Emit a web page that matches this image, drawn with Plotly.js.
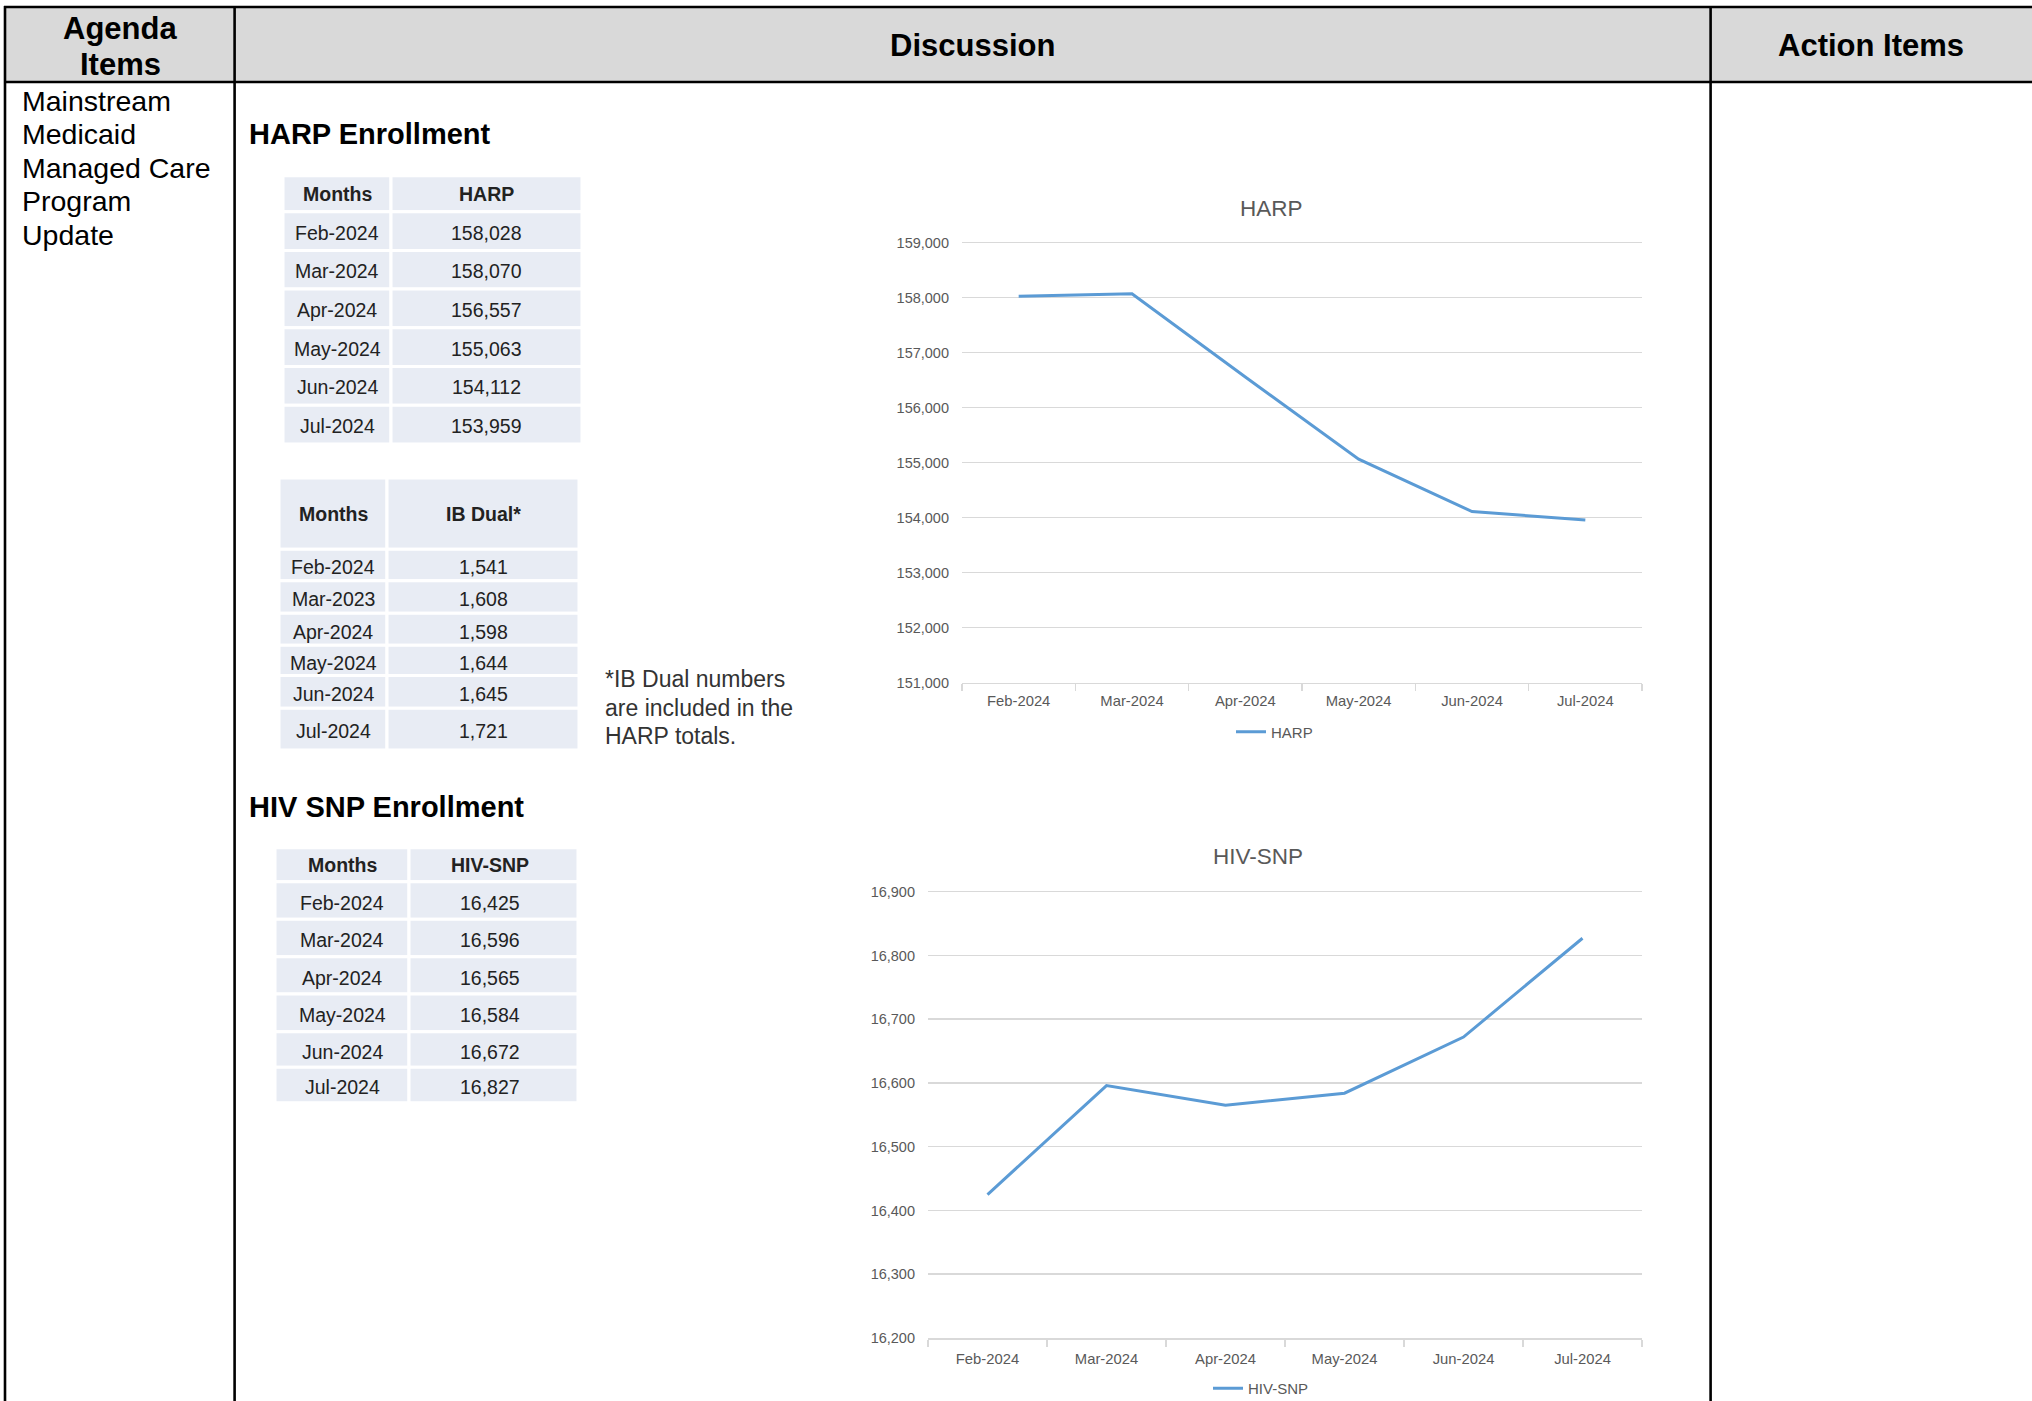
<!DOCTYPE html>
<html>
<head>
<meta charset="utf-8">
<script src="https://cdn.plot.ly/plotly-3.0.1.min.js"></script>
<style>
html, body { margin: 0; padding: 0; background: #ffffff; overflow: hidden; }
#chart { width: 2032px; height: 1410px; }
</style>
</head>
<body>
<div id="chart"></div>
<script>
// ---------------- DATA ----------------
const months = ['Feb-2024', 'Mar-2024', 'Apr-2024', 'May-2024', 'Jun-2024', 'Jul-2024'];
const harpValues = [158028, 158070, 156557, 155063, 154112, 153959];
const ibDualMonths = ['Feb-2024', 'Mar-2023', 'Apr-2024', 'May-2024', 'Jun-2024', 'Jul-2024'];
const ibDualValues = [1541, 1608, 1598, 1644, 1645, 1721];
const hivSnpValues = [16425, 16596, 16565, 16584, 16672, 16827];

const harpTableHeader = ['Months', 'HARP'];
const ibDualTableHeader = ['Months', 'IB Dual*'];
const hivTableHeader = ['Months', 'HIV-SNP'];

const docHeaders = ['Discussion', 'Action Items'];
const agendaHeaderLines = ['Agenda', 'Items'];
const agendaLines = ['Mainstream', 'Medicaid', 'Managed Care', 'Program', 'Update'];
const sectionTitles = ['HARP Enrollment', 'HIV SNP Enrollment'];
const footnoteLines = ['*IB Dual numbers', 'are included in the', 'HARP totals.'];
const chartTitles = ['HARP', 'HIV-SNP'];

const harpAxisRange = [151000, 159000];
const harpAxisStep = 1000;
const hivAxisRange = [16200, 16900];
const hivAxisStep = 100;

// ---------------- LAYOUT HELPERS ----------------
// The document table runs on below the visible window, so the drawing
// surface is a few pixels taller than the 1401px window.
const W = 2032, H = 1410;
const FONT = 'Liberation Sans, Arial, Helvetica, sans-serif';
const fx = x => x / W;
const fy = y => 1 - y / H;
const fmt = v => v.toLocaleString('en-US');

const shapes = [];
const annotations = [];

function text(str, x, y, size, opts) {
  opts = opts || {};
  annotations.push({
    xref: 'paper', yref: 'paper', x: fx(x), y: fy(y),
    xanchor: opts.xanchor || 'center', yanchor: 'middle',
    text: opts.bold ? '<b>' + str + '</b>' : str,
    showarrow: false,
    font: { family: FONT, size: size, color: opts.color || '#000000' }
  });
}
function rect(x0, y0, x1, y1, fill, lineColor, lineWidth) {
  shapes.push({
    type: 'rect', xref: 'paper', yref: 'paper',
    x0: fx(x0), x1: fx(x1), y0: fy(y1), y1: fy(y0),
    fillcolor: fill,
    line: { color: lineColor || 'rgba(0,0,0,0)', width: lineWidth || 0 },
    layer: 'below'
  });
}
function hline(x0, x1, y, w, c) {
  shapes.push({ type: 'line', xref: 'paper', yref: 'paper', x0: fx(x0), x1: fx(x1), y0: fy(y), y1: fy(y),
    line: { color: c, width: w } });
}
function vline(x, y0, y1, w, c) {
  shapes.push({ type: 'line', xref: 'paper', yref: 'paper', x0: fx(x), x1: fx(x), y0: fy(y0), y1: fy(y1),
    line: { color: c, width: w } });
}

// ---------------- DOCUMENT FRAME ----------------
rect(5, 7, W, 82, '#d9d9d9');
const BORDER = 2.6;
hline(4, W, 7, BORDER, '#000');
hline(4, W, 82, BORDER, '#000');
vline(5, 6, H, BORDER, '#000');
vline(234.6, 6, H, BORDER, '#000');
vline(1710.6, 6, H, BORDER, '#000');

text(agendaHeaderLines[0], 120, 28, 31, { bold: true });
text(agendaHeaderLines[1], 120, 64.5, 31, { bold: true });
text(docHeaders[0], 972.6, 45.5, 31, { bold: true });
text(docHeaders[1], 1871, 45.5, 31, { bold: true });

agendaLines.forEach((t, i) => text(t, 20, 101 + i * 33.4, 28.5, { xanchor: 'left' }));

text(sectionTitles[0], 247, 134, 29, { bold: true, xanchor: 'left' });
text(sectionTitles[1], 247, 807, 29, { bold: true, xanchor: 'left' });

// ---------------- DATA TABLES ----------------
const CELL_FILL = '#e8ecf4';
const CELL_TEXT = '#222222';
function buildTable(geom, header, col1, col2) {
  const xs = [geom.x0, geom.xDiv, geom.x1];
  const rows = [header].concat(col1.map((m, i) => [m, col2[i]]));
  rows.forEach((row, r) => {
    const y0 = geom.edges[r], y1 = geom.edges[r + 1];
    for (let c = 0; c < 2; c++) {
      rect(xs[c], y0, xs[c + 1], y1, CELL_FILL, '#ffffff', 3);
      text(String(row[c]), (xs[c] + xs[c + 1]) / 2 + (geom.shift ? geom.shift[c] : 0),
        (y0 + y1) / 2 + (r === 0 ? 0.5 : geom.textDy),
        geom.fontSize, { bold: r === 0, color: CELL_TEXT });
    }
  });
}

buildTable({ x0: 283, xDiv: 391, x1: 582, fontSize: 19.5, textDy: 1.5,
  edges: [175.7, 211.7, 250.4, 289.1, 327.8, 366.5, 405.2, 443.9] },
  harpTableHeader, months, harpValues.map(fmt));

buildTable({ x0: 279, xDiv: 387, x1: 579, fontSize: 19.5, textDy: 2.3,
  edges: [478, 549.3, 580.7, 613.3, 645.3, 675.5, 708.3, 750] },
  ibDualTableHeader, ibDualMonths, ibDualValues.map(fmt));

buildTable({ x0: 275, xDiv: 409, x1: 578, fontSize: 19.5, textDy: 2.3, shift: [0, -4],
  edges: [847.7, 881.7, 919.3, 956.7, 994, 1031.7, 1067.3, 1102.7] },
  hivTableHeader, months, hivSnpValues.map(fmt));

footnoteLines.forEach((t, i) => text(t, 603, 679.5 + i * 28.5, 23, { xanchor: 'left', color: '#333333' }));

// ---------------- CHARTS ----------------
const LINE_BLUE = '#5b9bd5';
const GRID = '#d9d9d9';
const AXIS_TEXT = '#595959';

text(chartTitles[0], 1271, 208, 22.5, { color: AXIS_TEXT });
text(chartTitles[1], 1258, 856.5, 22.5, { color: AXIS_TEXT });

const traces = [
  { type: 'scatter', mode: 'lines', name: 'HARP', x: months, y: harpValues,
    xaxis: 'x', yaxis: 'y', legend: 'legend',
    line: { color: LINE_BLUE, width: 3 }, hoverinfo: 'skip' },
  { type: 'scatter', mode: 'lines', name: 'HIV-SNP', x: months, y: hivSnpValues,
    xaxis: 'x2', yaxis: 'y2', legend: 'legend2',
    line: { color: LINE_BLUE, width: 3 }, hoverinfo: 'skip' }
];

function xAxis(d0, d1, anchor, standoff) {
  return {
    domain: [fx(d0), fx(d1)], anchor: anchor, type: 'category',
    categoryorder: 'array', categoryarray: months,
    range: [-0.5, months.length - 0.5],
    showgrid: false, zeroline: false,
    showline: true, linecolor: GRID, linewidth: 1.5,
    ticks: 'outside', tickson: 'boundaries', ticklen: 7, tickwidth: 1.2, tickcolor: GRID,
    ticklabelstandoff: standoff,
    tickfont: { family: FONT, size: 14.8, color: AXIS_TEXT },
    fixedrange: true
  };
}
// the value range is nudged by a hair at the top so the top gridline is drawn
function yAxis(topPx, bottomPx, range, dtick, anchor) {
  const pxPerUnit = (bottomPx - topPx) / (range[1] - range[0]);
  const pad = dtick * 0.02;
  return {
    domain: [fy(bottomPx), fy(topPx - pad * pxPerUnit)], anchor: anchor,
    range: [range[0], range[1] + pad], dtick: dtick, tick0: range[0], tickformat: ',d',
    showgrid: true, gridcolor: GRID, gridwidth: 1.5,
    zeroline: false, showline: false, ticks: '',
    ticklabelstandoff: 12,
    tickfont: { family: FONT, size: 14.5, color: AXIS_TEXT },
    fixedrange: true
  };
}

const layout = {
  width: W, height: H, autosize: false,
  margin: { l: 0, r: 0, t: 0, b: 0, pad: 0 },
  paper_bgcolor: '#ffffff', plot_bgcolor: 'rgba(0,0,0,0)',
  font: { family: FONT },
  showlegend: true,
  xaxis: xAxis(962, 1642, 'y', 4),
  yaxis: yAxis(242.7, 682.7, harpAxisRange, harpAxisStep, 'x'),
  xaxis2: xAxis(928, 1642, 'y2', 7),
  yaxis2: yAxis(891.7, 1338, hivAxisRange, hivAxisStep, 'x2'),
  legend: { orientation: 'h', x: fx(1231), y: fy(732), xanchor: 'left', yanchor: 'middle',
    bgcolor: 'rgba(0,0,0,0)', font: { family: FONT, size: 15, color: AXIS_TEXT } },
  legend2: { orientation: 'h', x: fx(1208), y: fy(1388.5), xanchor: 'left', yanchor: 'middle',
    bgcolor: 'rgba(0,0,0,0)', font: { family: FONT, size: 15, color: AXIS_TEXT } },
  shapes: shapes,
  annotations: annotations
};

Plotly.newPlot('chart', traces, layout, { displayModeBar: false, staticPlot: true });
</script>
</body>
</html>
